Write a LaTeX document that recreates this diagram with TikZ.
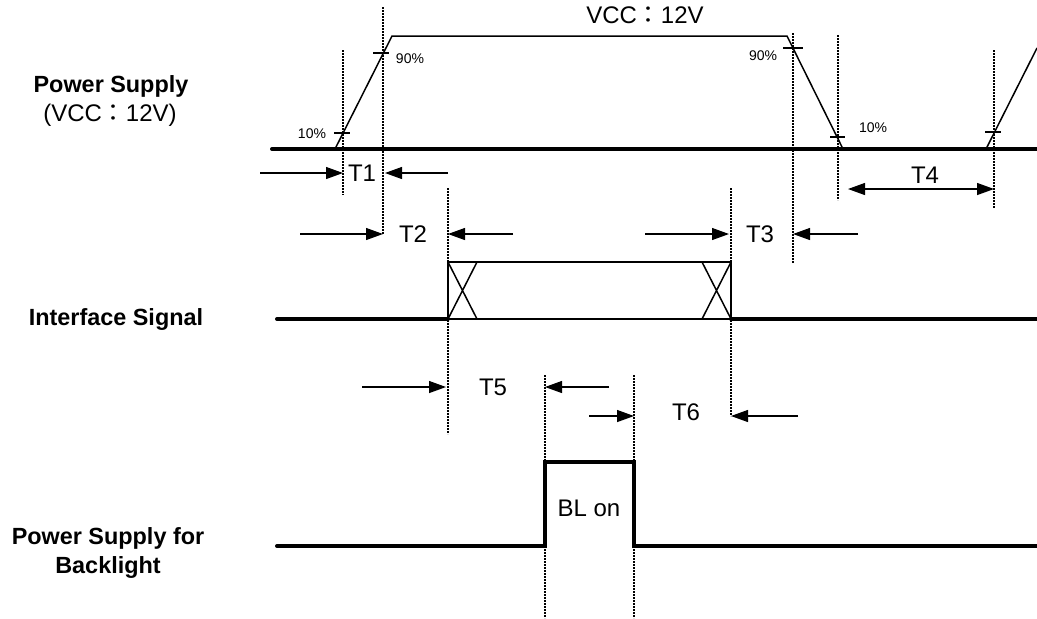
\documentclass[tikz,border=0pt]{standalone}
\usepackage{fontspec}
\setmainfont{Liberation Sans}
\newfontfamily\cjk{Noto Sans CJK JP}
\usetikzlibrary{arrows.meta,positioning,calc}

\tikzset{
    wave/.style={line width=2pt, line cap=round},
    thinwave/.style={line width=0.75pt},
    guide/.style={line width=0.8pt, dash pattern=on 0.8pt off 0.7pt},
    dimarrow/.style={line width=0.6pt, -{Triangle[length=8.5pt,width=6pt]}},
    dimboth/.style={line width=0.6pt, {Triangle[length=8.5pt,width=6pt]}-{Triangle[length=8.5pt,width=6pt]}},
    siglabel/.style={font=\bfseries\fontsize{11.7}{14.5}\selectfont, align=center, inner sep=0pt},
    tlabel/.style={font=\fontsize{12}{14}\selectfont, inner sep=0pt},
    pctlabel/.style={font=\fontsize{7}{8}\selectfont, inner sep=0pt},
}

\begin{document}
\begin{tikzpicture}[x=0.5pt, y=-0.5pt]
    \useasboundingbox (0,0) rectangle (1037,618);

    % signal names
    \node [siglabel] (pwr) at (111,86) {Power Supply};
    \node [tlabel] (pwrvcc) at (110,115) {(VCC{\cjk ：}12V)};
    \node [siglabel] (ifsig) at (116,319) {Interface Signal};
    \node [siglabel] (blpwr) at (108,553) {Power Supply for\\Backlight};

    % guide lines
    \foreach \n/\x/\ya/\yb in {g1/343/50/195, g2/383/7/234, g3/448/188/434, g4/545/375/618,
                               g5/634/375/618, g6/731/188/416, g7/793/33/263, g8/838/35/200, g9/994/50/208} {
        \coordinate (\n) at (\x,\ya);
        \coordinate (\n b) at (\x,\yb);
        \draw [guide] (\n) -- (\n b);
    }

    % power supply
    \draw [wave] (272,149) -- (1037,149);
    \draw [thinwave] (335,149) -- (392,36) -- (787,36) -- (843,149);
    \draw [thinwave] (986,149) -- (1037,48);
    \draw [thinwave] (334,133) -- (350,133);
    \draw [thinwave] (373,53) -- (389,53);
    \draw [thinwave] (783,48) -- (803,48);
    \draw [thinwave] (830,137) -- (845,137);
    \draw [thinwave] (985,132) -- (1001,132);
    \node [pctlabel] (p10a) at (312,134) {10\%};
    \node [pctlabel] (p90a) at (410,59) {90\%};
    \node [pctlabel] (p90b) at (763,56) {90\%};
    \node [pctlabel] (p10b) at (873,128) {10\%};
    \node [tlabel] (vcc) at (645,15) {VCC{\cjk ：}12V};

    % interface signal
    \draw [wave] (277,319) -- (448,319);
    \draw [wave] (731,319) -- (1037,319);
    \draw [thinwave] (448,262) -- (731,262) -- (731,319) -- (448,319) -- cycle;
    \draw [thinwave] (448,262) -- (477,319) (448,319) -- (477,262);
    \draw [thinwave] (702,262) -- (731,319) (702,319) -- (731,262);

    % backlight
    \draw [wave] (277,546) -- (545,546) -- (545,462) -- (634,462) -- (634,546) -- (1037,546);
    \node [tlabel] (blon) at (589,508) {BL on};

    % timing arrows
    \coordinate (t1a) at (260,173);  \coordinate (t1b) at (448,173);
    \coordinate (t2a) at (300,234);  \coordinate (t2b) at (513,234);
    \coordinate (t3a) at (645,234);  \coordinate (t3b) at (858,234);
    \coordinate (t5a) at (362,387);  \coordinate (t5b) at (609,387);
    \coordinate (t6a) at (589,416);  \coordinate (t6b) at (798,416);
    \coordinate (t4) at (848,189);

    \draw [dimarrow] (t1a) -- (t1a -| g1);
    \draw [dimarrow] (t1b) -- ([xshift=1pt]t1b -| g2);
    \node [tlabel] (t1) at (362,173) {T1};

    \draw [dimarrow] (t2a) -- (t2a -| g2);
    \draw [dimarrow] (t2b) -- (t2b -| g3);
    \node [tlabel] (t2) at (413,234) {T2};

    \draw [dimarrow] (t3a) -- ([xshift=-1pt]t3a -| g6);
    \draw [dimarrow] (t3b) -- (t3b -| g7);
    \node [tlabel] (t3) at (760,234) {T3};

    \draw [dimboth] (t4) -- (t4 -| g9);
    \node [tlabel] (t4l) at (925,175) {T4};

    \draw [dimarrow] (t5a) -- ([xshift=-1pt]t5a -| g3);
    \draw [dimarrow] (t5b) -- (t5b -| g4);
    \node [tlabel] (t5) at (493,387) {T5};

    \draw [dimarrow] (t6a) -- (t6a -| g5);
    \draw [dimarrow] (t6b) -- (t6b -| g6);
    \node [tlabel] (t6) at (686,412) {T6};
\end{tikzpicture}
\end{document}
